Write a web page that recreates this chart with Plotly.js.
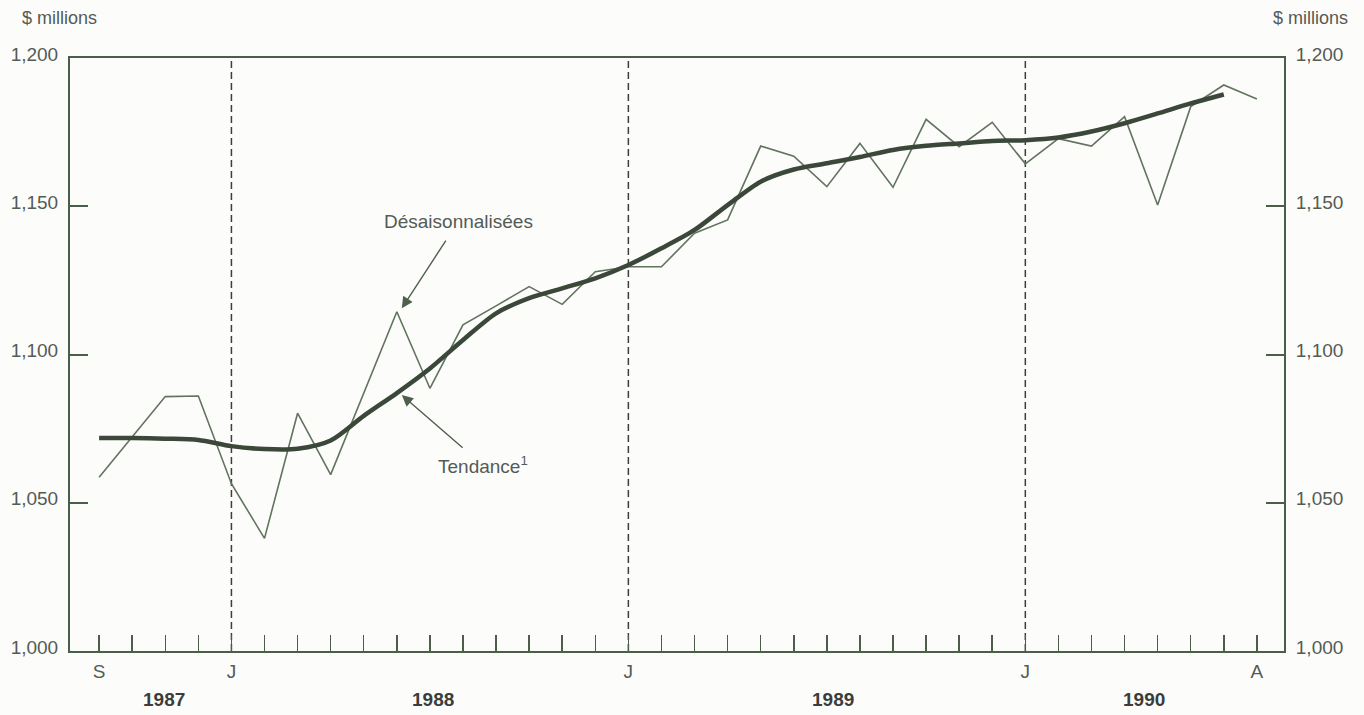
<!DOCTYPE html>
<html>
<head>
<meta charset="utf-8">
<script src="https://cdn.plot.ly/plotly-3.0.1.min.js"></script>
<style>
  html, body { margin: 0; padding: 0; background: #fcfdfb; }
  #chart { width: 1364px; height: 715px; }
</style>
</head>
<body>
<div id="chart"></div>
<script>
// Months from September 1987 to August 1990
const monthLabels = ['S','O','N','D','J','F','M','A','M','J','J','A',
                     'S','O','N','D','J','F','M','A','M','J','J','A',
                     'S','O','N','D','J','F','M','A','M','J','J','A'];
const monthYears = [1987,1987,1987,1987,1988,1988,1988,1988,1988,1988,1988,1988,
                    1988,1988,1988,1988,1989,1989,1989,1989,1989,1989,1989,1989,
                    1989,1989,1989,1989,1990,1990,1990,1990,1990,1990,1990,1990];
// Tick labels shown under the axis (empty = tick mark only)
const tickText = ['S','','','','J','','','','','','','',
                  '','','','','J','','','','','','','',
                  '','','','','J','','','','','','','A'];
// Seasonally adjusted series ($ millions)
const seasonallyAdjusted = [1058.6,1072.3,1085.8,1086.0,1056.4,1038.0,1080.2,1059.5,1087.0,1114.4,1088.6,1110.0,
                            1116.4,1122.9,1116.9,1127.9,1129.6,1129.6,1140.9,1145.4,1170.3,1166.9,1156.6,1171.2,
                            1156.4,1179.3,1170.1,1178.3,1164.3,1172.8,1170.3,1180.2,1150.4,1183.6,1190.9,1186.2];
// Trend series ($ millions)
const trend = [1071.8,1071.8,1071.6,1071.2,1069.1,1068.1,1068.2,1071.0,1079.3,1087.0,1095.3,1104.9,
               1113.9,1119.0,1122.3,1125.7,1130.2,1135.8,1142.0,1150.4,1158.3,1162.4,1164.5,1166.6,
               1169.0,1170.4,1171.2,1172.0,1172.3,1173.2,1175.2,1178.0,1181.3,1184.7,1187.7,null];
const yTickVals = [1000,1050,1100,1150,1200];
const yTickText = ['1,000','1,050','1,100','1,150','1,200'];
const yearLabels = ['1987','1988','1989','1990'];
const yearLabelPos = [1.95, 10.1, 22.2, 31.6];

const idx = monthLabels.map((_, i) => i);
const janIdx = idx.filter(i => monthLabels[i] === 'J' && (i === 0 || monthYears[i] !== monthYears[i-1]));
const labelIdx = idx.filter(i => tickText[i] !== '');
const labelText = labelIdx.map(i => tickText[i]);

const axisColor = '#4b5e49';
const textColor = '#555a55';
const FONT = 'Liberation Sans, Arial, Helvetica, sans-serif';
const xRange = [-0.88, 35.82];

const traces = [
  {
    x: idx, y: seasonallyAdjusted, type: 'scatter', mode: 'lines',
    line: {color: '#62735e', width: 1.6},
    hoverinfo: 'skip', showlegend: false
  },
  {
    x: idx, y: trend, type: 'scatter', mode: 'lines',
    line: {color: '#3a4739', width: 4.5, shape: 'spline', smoothing: 0.8},
    hoverinfo: 'skip', showlegend: false
  },
  {
    x: idx, y: trend, type: 'scatter', mode: 'lines', xaxis: 'x2', yaxis: 'y2',
    line: {color: 'rgba(0,0,0,0)', width: 0},
    hoverinfo: 'skip', showlegend: false
  }
];

const baseY = {
  range: [1000, 1200], tickvals: yTickVals, ticktext: yTickText,
  ticks: 'inside', ticklen: 18, tickwidth: 2, tickcolor: axisColor,
  showline: true, linecolor: axisColor, linewidth: 2,
  showgrid: false, zeroline: false, fixedrange: true,
  tickfont: {family: FONT, size: 19, color: textColor},
  ticklabelstandoff: 6, ticklabelshift: -4
};

const shapes = janIdx.map(i => ({
  type: 'line', xref: 'x', yref: 'paper', x0: i, x1: i, y0: 0, y1: 1,
  line: {color: '#3c3f3c', width: 1.5, dash: '7px,4px'}, layer: 'below'
}));

const annotations = [
  {xref: 'paper', yref: 'paper', x: 0.024, y: 1.067, xanchor: 'right', yanchor: 'middle',
   text: '$ millions', showarrow: false, font: {family: FONT, size: 18, color: textColor}},
  {xref: 'paper', yref: 'paper', x: 1.054, y: 1.067, xanchor: 'right', yanchor: 'middle',
   text: '$ millions', showarrow: false, font: {family: FONT, size: 18, color: textColor}},
  {xref: 'x', yref: 'y', x: 9.15, y: 1115.6, axref: 'x', ayref: 'y', ax: 10.85, ay: 1144.7,
   text: 'Désaisonnalisées', showarrow: true, arrowhead: 2, arrowsize: 1.6, arrowwidth: 1.4,
   arrowcolor: '#4f5f4d', standoff: 0, startstandoff: 8,
   font: {family: FONT, size: 19, color: textColor}},
  {xref: 'x', yref: 'y', x: 9.15, y: 1086.3, axref: 'x', ayref: 'y', ax: 11.6, ay: 1062.7,
   text: 'Tendance<sup>1</sup>', showarrow: true, arrowhead: 2, arrowsize: 1.6, arrowwidth: 1.4,
   arrowcolor: '#4f5f4d', standoff: 0, startstandoff: 6,
   font: {family: FONT, size: 19, color: textColor}}
];
yearLabels.forEach((t, k) => annotations.push({
  xref: 'x', yref: 'paper', x: yearLabelPos[k], y: -0.081, yanchor: 'middle',
  text: '<b>' + t + '</b>', showarrow: false, font: {family: FONT, size: 19, color: '#3a3d3a'}
}));

const layout = {
  width: 1364, height: 715,
  margin: {l: 70, r: 80, t: 58, b: 64},
  paper_bgcolor: '#fcfdfb', plot_bgcolor: '#fcfdfb',
  showlegend: false,
  xaxis: {
    range: xRange, tickvals: idx,
    ticks: 'inside', ticklen: 16, tickwidth: 1.5, tickcolor: axisColor,
    showline: true, linecolor: axisColor, linewidth: 2, mirror: true,
    showgrid: false, zeroline: false, fixedrange: true, showticklabels: false
  },
  xaxis2: {
    range: xRange, overlaying: 'x', side: 'bottom', anchor: 'y2',
    tickvals: labelIdx, ticktext: labelText, ticks: '',
    showline: false, showgrid: false, zeroline: false, fixedrange: true,
    tickfont: {family: FONT, size: 19, color: textColor},
    ticklabelstandoff: 7
  },
  yaxis: Object.assign({}, baseY, {side: 'left'}),
  yaxis2: Object.assign({}, baseY, {side: 'right', overlaying: 'y'}),
  shapes: shapes,
  annotations: annotations
};

Plotly.newPlot('chart', traces, layout, {displayModeBar: false, staticPlot: true});
</script>
</body>
</html>
